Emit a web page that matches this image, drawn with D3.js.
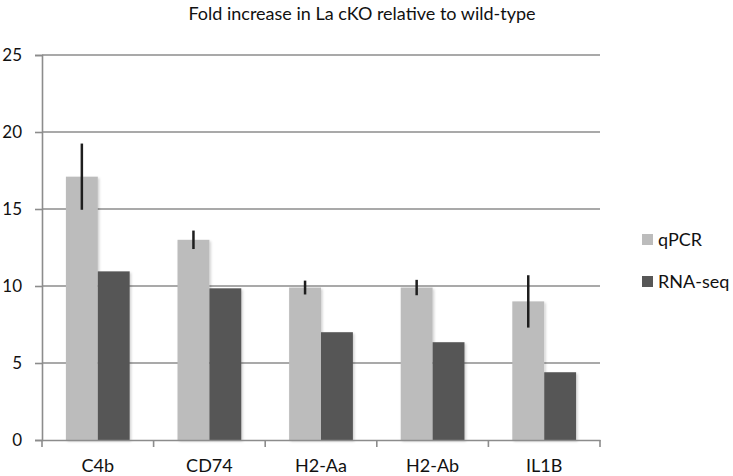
<!DOCTYPE html>
<html>
<head>
<meta charset="utf-8">
<script src="https://cdn.jsdelivr.net/npm/d3@7"></script>
<style>
  html, body { margin: 0; padding: 0; background: #fff; }
  svg { display: block; }
  text { font-family: Lato, "Open Sans", sans-serif; fill: #111; }
</style>
</head>
<body>
<svg id="chart" width="733" height="476"></svg>
<script>
const categories = ["C4b", "CD74", "H2-Aa", "H2-Ab", "IL1B"];
const seriesNames = ["qPCR", "RNA-seq"];
const qpcrValues = [17.1, 13.0, 9.9, 9.9, 9.0];
const qpcrErrors = [2.15, 0.6, 0.45, 0.5, 1.7];
const rnaseqValues = [10.95, 9.85, 7.0, 6.35, 4.4];
const yTicks = [0, 5, 10, 15, 20, 25];
const title = "Fold increase in La cKO relative to wild-type";

const colors = { "qPCR": "#bcbcbc", "RNA-seq": "#575757" };
const gridColor = "#8c8c8c";
const fontFamily = "Lato, 'Open Sans', sans-serif";

const svg = d3.select("#chart");
const plot = { left: 42, right: 600, top: 55, bottom: 440 };

const defs = svg.append("defs");
const f = defs.append("filter").attr("id", "shadow").attr("x", "-20%").attr("y", "-20%").attr("width", "150%").attr("height", "150%");
f.append("feDropShadow").attr("dx", 1.5).attr("dy", 1.5).attr("stdDeviation", 1.2)
  .attr("flood-color", "#000").attr("flood-opacity", 0.18);

const x0 = d3.scaleBand().domain(categories).range([plot.left, plot.right]).paddingInner(0).paddingOuter(0);
const x1 = d3.scaleBand().domain(seriesNames).range([0, x0.bandwidth()]).paddingInner(0).paddingOuter(0.75);
const y = d3.scaleLinear().domain([0, 25]).range([plot.bottom, plot.top]);

// Title
svg.append("text").attr("x", 362).attr("y", 20).attr("text-anchor", "middle")
  .style("font-size", "18px").text(title);

// Gridlines
svg.append("g").selectAll("line").data(yTicks.filter(t => t > 0)).join("line")
  .attr("x1", plot.left).attr("x2", plot.right)
  .attr("y1", d => y(d)).attr("y2", d => y(d))
  .attr("stroke", gridColor).attr("stroke-width", 1.6);

// Y axis
const yAxis = d3.axisLeft(y).tickValues(yTicks).tickSize(7).tickPadding(13).tickFormat(d3.format("d"));
const gy = svg.append("g").attr("transform", `translate(${plot.left},0)`).call(yAxis);
gy.select(".domain").attr("stroke", gridColor).attr("stroke-width", 1.6);
gy.selectAll(".tick line").attr("stroke", gridColor).attr("stroke-width", 1.6);
gy.selectAll(".tick text").style("font-size", "17px").style("font-family", fontFamily).attr("fill", "#111");

// Bars
const data = categories.map((c, i) => ({
  cat: c,
  vals: [
    { s: "qPCR", v: qpcrValues[i], e: qpcrErrors[i] },
    { s: "RNA-seq", v: rnaseqValues[i], e: null }
  ]
}));

const groups = svg.append("g").selectAll("g").data(data).join("g")
  .attr("transform", d => `translate(${x0(d.cat)},0)`);

groups.selectAll("rect").data(d => d.vals).join("rect")
  .attr("x", d => x1(d.s)).attr("width", x1.bandwidth())
  .attr("y", d => y(d.v)).attr("height", d => y(0) - y(d.v))
  .attr("fill", d => colors[d.s]).attr("filter", "url(#shadow)");

// Error bars
groups.selectAll("line.err").data(d => d.vals.filter(v => v.e != null)).join("line")
  .attr("class", "err")
  .attr("x1", d => x1(d.s) + x1.bandwidth() / 2).attr("x2", d => x1(d.s) + x1.bandwidth() / 2)
  .attr("y1", d => y(d.v + d.e)).attr("y2", d => y(d.v - d.e))
  .attr("stroke", "#1e1e1e").attr("stroke-width", 2.5);

// X axis
const xAxis = d3.axisBottom(x0).tickSize(0).tickPadding(19);
const gx = svg.append("g").attr("transform", `translate(0,${plot.bottom})`).call(xAxis);
gx.select(".domain").attr("stroke", gridColor).attr("stroke-width", 1.6);
gx.selectAll(".tick text").style("font-size", "18px").style("font-family", fontFamily).attr("fill", "#111");
// category boundary ticks
const boundaries = categories.map(c => x0(c)).concat([x0(categories[categories.length - 1]) + x0.bandwidth()]);
svg.append("g").selectAll("line").data(boundaries).join("line")
  .attr("x1", d => d).attr("x2", d => d)
  .attr("y1", plot.bottom).attr("y2", plot.bottom + 7)
  .attr("stroke", gridColor).attr("stroke-width", 1.6);

// Legend
const legend = svg.append("g").selectAll("g").data(seriesNames).join("g")
  .attr("transform", (d, i) => `translate(642,${234 + i * 42})`);
legend.append("rect").attr("width", 11).attr("height", 11).attr("fill", d => colors[d]);
legend.append("text").attr("x", 16).attr("y", 6).attr("dy", "0.35em")
  .style("font-size", "18px").text(d => d);
</script>
</body>
</html>
